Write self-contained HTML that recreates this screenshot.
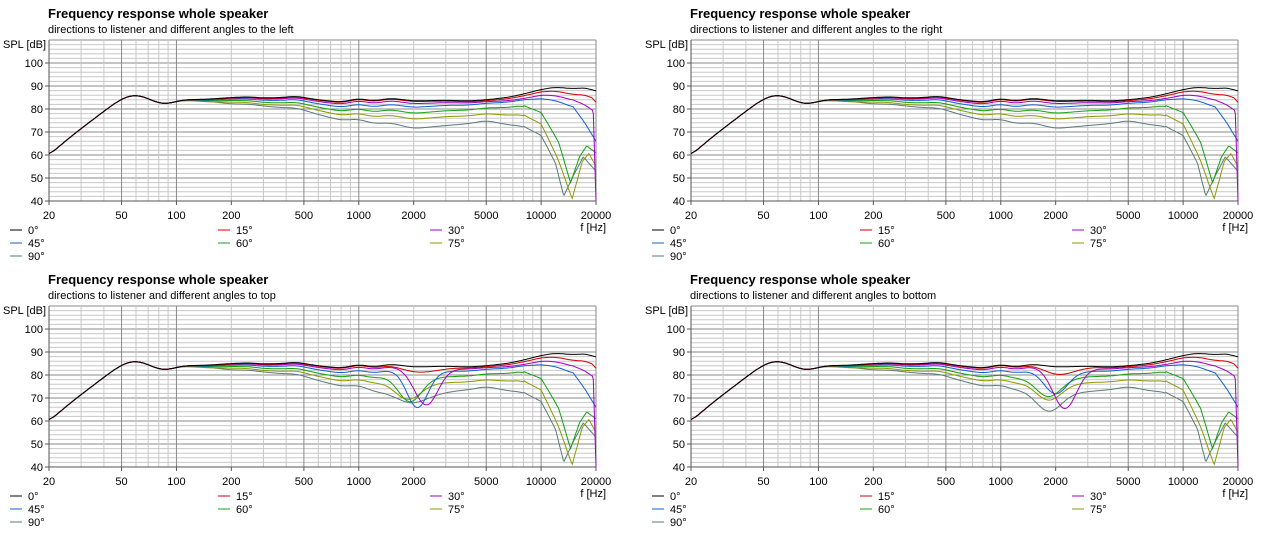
<!DOCTYPE html>
<html><head><meta charset="utf-8"><style>
html,body{margin:0;padding:0;background:#fff;width:1281px;height:533px;overflow:hidden}
svg text{font-family:"Liberation Sans",Tahoma,sans-serif;fill:#000}
</style></head><body>
<svg id="s" width="1281" height="533" xmlns="http://www.w3.org/2000/svg"></svg>
<script>
var S=document.getElementById('s'),NS='http://www.w3.org/2000/svg';
function el(t,a,txt){var e=document.createElementNS(NS,t);for(var k in a)e.setAttribute(k,a[k]);if(txt!=null)e.textContent=txt;S.appendChild(e);return e;}
var L=Math.log10;
function interp(pts,f){var x=L(f);if(x<=L(pts[0][0]))return pts[0][1];
for(var i=1;i<pts.length;i++){var x0=L(pts[i-1][0]),x1=L(pts[i][0]);if(x<=x1){var t=(x-x0)/(x1-x0);return pts[i-1][1]+t*(pts[i][1]-pts[i-1][1]);}}return pts[pts.length-1][1];}
function smooth(pts,f){var d=0.012,s=0;for(var k=-3;k<=3;k++)s+=interp(pts,f*Math.pow(10,k*d));return s/7;}
var base=[[20,60],[25,66.5],[30,71.5],[35,75.5],[40,79],[45,82],[50,84.3],[55,85.7],[60,86],[65,85.5],[70,84.5],[80,82.5],[90,82.3],[100,83.3],[110,84],[150,84.3],[200,85],[250,85.3],[300,84.8],[380,85],[450,85.6],[600,84],[800,83],[1000,84.6],[1200,83.5],[1500,84.7],[2000,83.5],[3000,83.8],[4000,83.5],[5000,84],[6500,85],[8000,86.5],[10000,88.5],[12000,89.5],[15000,88.8],[18000,89.3],[20000,87.5]];
var off={
15:[[100,0],[200,-0.2],[2000,-0.3],[5000,-0.4],[10000,-1],[15000,-2.5],[19000,-3.5],[20000,-5]],
30:[[100,0],[200,-0.3],[1000,-1],[2000,-1.2],[5000,-0.8],[10000,-2.5],[15000,-5],[19300,-9],[20000,-48]],
45:[[100,0],[200,-0.7],[500,-1.5],[1000,-2.5],[2000,-2.8],[5000,-1.5],[8000,-2.5],[10000,-4],[15000,-8],[20000,-22]],
60:[[100,0],[200,-1.3],[500,-2.8],[1000,-4.5],[2000,-5.4],[5000,-3.5],[8000,-5],[10000,-10],[12500,-24],[14500,-41],[16200,-30],[17800,-25],[20000,-27]],
75:[[100,0],[200,-2],[500,-4],[1000,-6.5],[2000,-8],[5000,-6],[8000,-9],[10000,-15],[12500,-32],[14800,-48],[16800,-32],[18300,-28],[20000,-33]],
90:[[100,0],[150,-1],[200,-2.8],[300,-3.5],[500,-5.5],[1000,-9],[2000,-12],[3000,-11],[5000,-9],[8000,-14],[10000,-20],[12000,-33],[13300,-47],[15000,-38],[17000,-30],[20000,-35]]};
var dTop={15:[2200,2,0.15],30:[2350,15.5,0.09],45:[2100,15,0.08],60:[1900,10,0.09],75:[1830,6.6,0.1],90:[1850,4,0.15]};
var dBot={15:[2100,3,0.12],30:[2250,17,0.09],45:[2000,9,0.09],60:[1800,8,0.1],75:[1800,7,0.1],90:[1800,8,0.1]};
var cols={0:'#000',15:'#d00000',30:'#a000c0',45:'#1060d0',60:'#10a010',75:'#8a9a00',90:'#5a7a7a'};
function panel(ox,oy,sub,dips){
 var x0=ox+49,x1=ox+596,yt=oy+40,yb=oy+201;
 function X(f){return x0+(L(f)-L(20))/3*(x1-x0);}
 function Y(d){return yb-(d-40)*2.3;}
 el('text',{x:ox+48,y:oy+18,'font-size':'13','font-weight':'bold'},'Frequency response whole speaker');
 el('text',{x:ox+48,y:oy+33,'font-size':'11'},sub);
 el('text',{x:ox+3,y:oy+48,'font-size':'11'},'SPL [dB]');
 for(var d=40;d<=110;d+=2){var maj=d%10==0;el('line',{x1:x0,x2:x1,y1:Y(d),y2:Y(d),stroke:maj?'#8a8a8a':'#c8c8c8','stroke-width':1});}
 var fs=[20,30,40,50,60,70,80,90,100,200,300,400,500,600,700,800,900,1000,2000,3000,4000,5000,6000,7000,8000,9000,10000,20000];
 fs.forEach(function(f){var m=[20,50,100,500,1000,5000,10000,20000].indexOf(f)>=0;el('line',{x1:X(f),x2:X(f),y1:yt,y2:yb,stroke:m?'#8a8a8a':'#c8c8c8','stroke-width':1});});
 el('line',{x1:x0,x2:x0,y1:yt,y2:yb+4,stroke:'#555'});
 el('line',{x1:x0-4,x2:x1,y1:yb,y2:yb,stroke:'#555'});
 for(var d=40;d<=100;d+=10){el('line',{x1:x0-4,x2:x0,y1:Y(d),y2:Y(d),stroke:'#555'});el('text',{x:x0-6,y:Y(d)+4,'font-size':'11','text-anchor':'end'},d);}
 [20,50,100,200,500,1000,2000,5000,10000,20000].forEach(function(f){el('line',{x1:X(f),x2:X(f),y1:yb,y2:yb+4,stroke:'#555'});el('text',{x:X(f),y:yb+18,'font-size':'11','text-anchor':'middle'},f);});
 el('text',{x:x1+10,y:yb+30,'font-size':'11','text-anchor':'end'},'f [Hz]');
 var cp='c'+ox+'_'+oy;var c=document.createElementNS(NS,'clipPath');c.setAttribute('id',cp);var r=document.createElementNS(NS,'rect');r.setAttribute('x',x0);r.setAttribute('y',yt);r.setAttribute('width',x1-x0+1);r.setAttribute('height',yb-yt);c.appendChild(r);S.appendChild(c);
 [90,75,60,45,30,15,0].forEach(function(a){var p=[];for(var i=0;i<=600;i++){var f=20*Math.pow(1000,i/600);var v=smooth(base,f);
  if(a>0)v+=(f>8000?interp(off[a],f):smooth(off[a],f));
  if(dips&&dips[a]){var q=dips[a];var z=(L(f)-L(q[0]))/q[2];v-=q[1]*Math.exp(-z*z);}
  p.push(X(f).toFixed(1)+','+Y(Math.max(39,v)).toFixed(1));}
  el('polyline',{points:p.join(' '),fill:'none',stroke:cols[a],'stroke-width':1,'clip-path':'url(#'+cp+')'});});
 var leg=[[0,10,0],[15,218,0],[30,430,0],[45,10,1],[60,218,1],[75,430,1],[90,10,2]];
 leg.forEach(function(l){var y=oy+230+l[2]*13;el('line',{x1:ox+l[1],x2:ox+l[1]+12,y1:y,y2:y,stroke:cols[l[0]]});el('text',{x:ox+l[1]+18,y:y+4,'font-size':'11'},l[0]+'°');});
}
panel(0,0,'directions to listener and different angles to the left',null);
panel(642,0,'directions to listener and different angles to the right',null);
panel(0,266,'directions to listener and different angles to top',dTop);
panel(642,266,'directions to listener and different angles to bottom',dBot);
</script>
</body></html>
